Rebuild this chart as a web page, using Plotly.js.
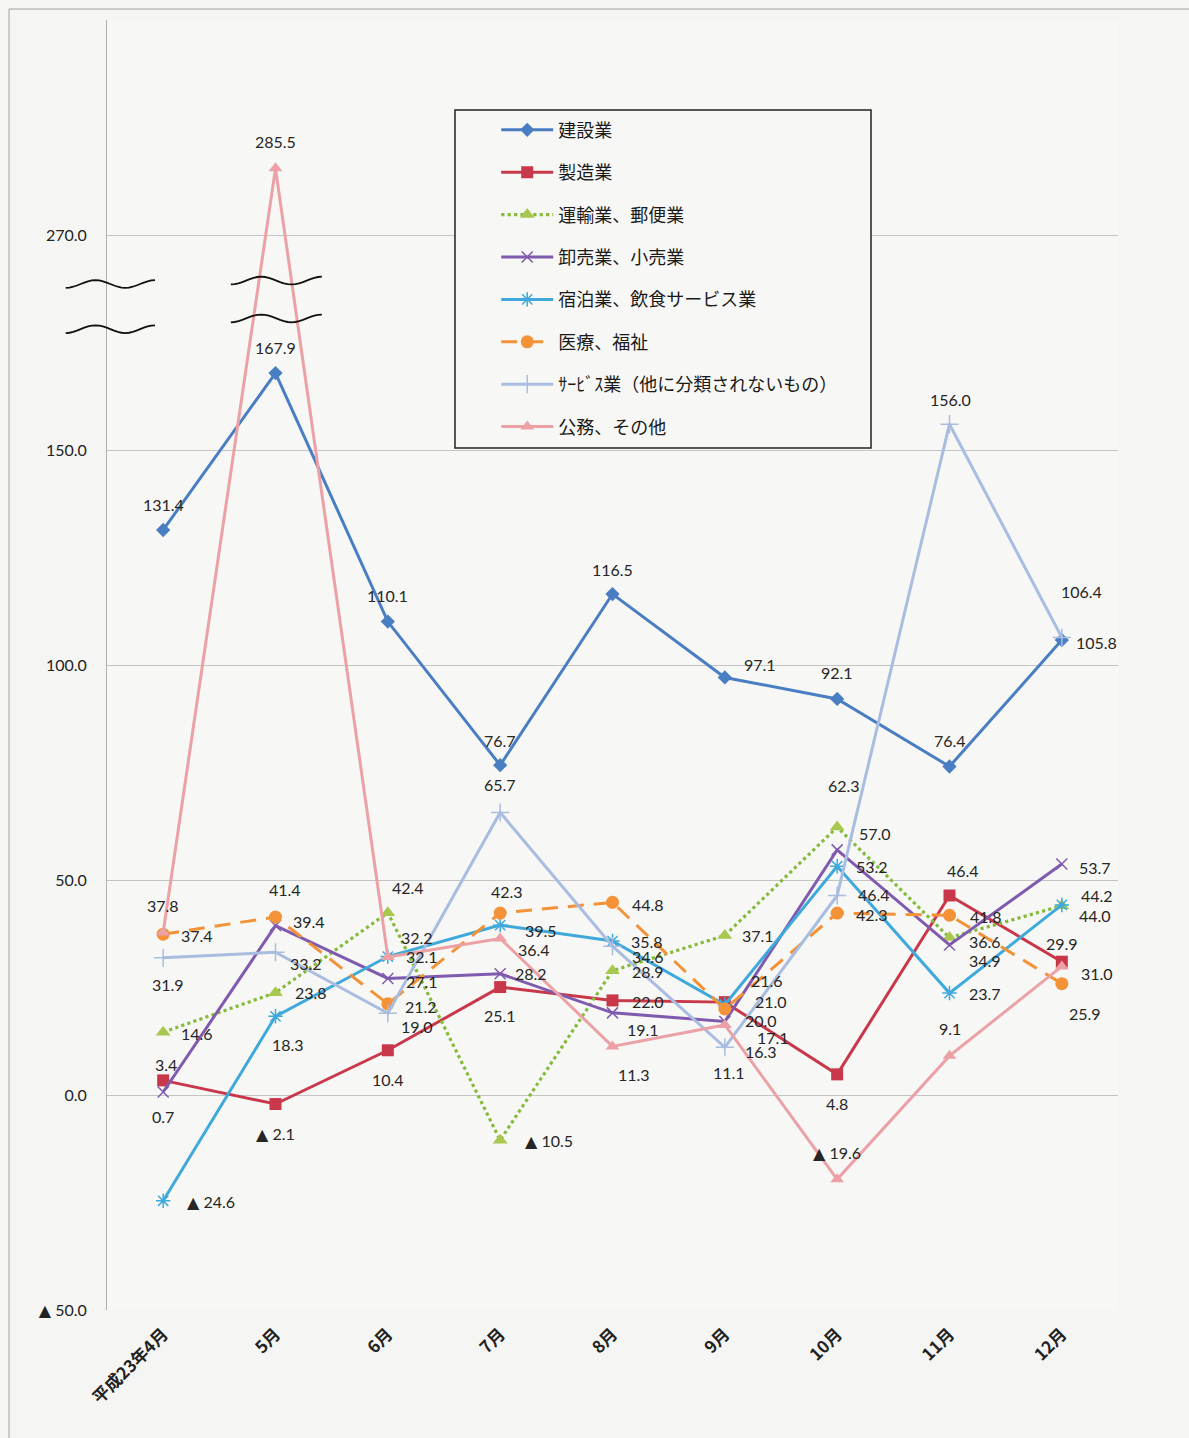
<!DOCTYPE html>
<html>
<head>
<meta charset="utf-8">
<script src="https://cdn.plot.ly/plotly-3.0.1.min.js"></script>
<style>
  html, body { margin: 0; padding: 0; background: #f5f6f3; }
  #chart { width: 1189px; height: 1438px; }
</style>
</head>
<body>
<div id="chart"></div>
<script>
// ---- data ----
const months = ['平成23年4月', '5月', '6月', '7月', '8月', '9月', '10月', '11月', '12月'];
const seriesNames = ['建設業', '製造業', '運輸業、郵便業', '卸売業、小売業',
  '宿泊業、飲食サービス業', '医療、福祉', 'ｻｰﾋﾞｽ業（他に分類されないもの）', '公務、その他'];

const kensetsu   = [131.4, 167.9, 110.1, 76.7, 116.5, 97.1, 92.1, 76.4, 105.8];
const seizo      = [3.4, -2.1, 10.4, 25.1, 22.0, 21.6, 4.8, 46.4, 31.0];
const unyu       = [14.6, 23.8, 42.4, -10.5, 28.9, 37.1, 62.3, 36.6, 44.0];
const oroshi     = [0.7, 39.4, 27.1, 28.2, 19.1, 17.1, 57.0, 34.9, 53.7];
const shukuhaku  = [-24.6, 18.3, 32.2, 39.5, 35.8, 21.0, 53.2, 23.7, 44.2];
const iryo       = [37.4, 41.4, 21.2, 42.3, 44.8, 20.0, 42.3, 41.8, 25.9];
const service    = [31.9, 33.2, 19.0, 65.7, 34.6, 11.1, 46.4, 156.0, 106.4];
const koumu      = [37.8, 285.5, 32.1, 36.4, 11.3, 16.3, -19.6, 9.1, 29.9];

// y-axis tick values (real values) and labels
const yTickReal = [-50, 0, 50, 100, 150, 270];
// ---- axis break: values above BREAK_LOW are shifted down so that 270 sits at 200 ----
const BREAK_REAL = 270, BREAK_SHOWN = 200, BREAK_LOW = 200;
function toAxis(v) { return v >= BREAK_LOW ? v - (BREAK_REAL - BREAK_SHOWN) : v; }
function fmt(v) { return v < 0 ? '▲ ' + Math.abs(v).toFixed(1) : v.toFixed(1); }

// ---- label offsets (px, label centre minus point; +dy = down) ----
const offKensetsu  = [[0,-25],[0,-26],[0,-26],[0,-25],[0,-25],[35,-13],[0,-26],[0,-26],[35,2]];
const offSeizo     = [[3,-16],[0,29],[0,29],[0,28],[35,1],[42,-22],[0,29],[13,-25],[35,12]];
const offUnyu      = [[34,1],[35,0],[20,-25],[49,0],[35,1],[33,0],[7,-42],[35,4],[33,10]];
const offOroshi    = [[0,25],[33,-4],[34,3],[31,0],[30,17],[48,16],[38,-16],[35,16],[33,3]];
const offShuku     = [[48,1],[12,28],[29,-19],[41,5],[34,0],[46,-3],[35,0],[35,0],[35,-9]];
const offIryo      = [[34,1],[9,-27],[33,3],[7,-22],[35,2],[36,11],[35,1],[36,1],[23,30]];
const offService   = [[5,27],[30,11],[29,13],[0,-28],[35,10],[4,25],[37,-1],[1,-25],[20,-46]];
const offKoumu     = [[0,-27],[0,-27],[34,0],[34,11],[21,28],[36,27],[0,-27],[0,-27],[0,-23]];

const allSeries = [kensetsu, seizo, unyu, oroshi, shukuhaku, iryo, service, koumu];
const allOffsets = [offKensetsu, offSeizo, offUnyu, offOroshi, offShuku, offIryo, offService, offKoumu];

// ---- styles ----
const styles = [
  { line: { color: '#4A7EC2', width: 3 }, marker: { symbol: 'diamond', size: 11, color: '#4A7EC2' } },
  { line: { color: '#C9384A', width: 3 }, marker: { symbol: 'square', size: 12, color: '#C9384A' } },
  { line: { color: '#84BB3A', width: 3.2, dash: 'dot' }, marker: { symbol: 'triangle-up', size: 13, color: '#A8C850' } },
  { line: { color: '#7F5AAE', width: 3 }, marker: { symbol: 'x-thin-open', size: 11, color: '#7F5AAE', line: { width: 1.5, color: '#7F5AAE' } } },
  { line: { color: '#3FA9DB', width: 3 }, marker: { symbol: 'asterisk-open', size: 12, color: '#3FA9DB', line: { width: 1.5, color: '#3FA9DB' } } },
  { line: { color: '#F39237', width: 3, dash: '16px,10px' }, marker: { symbol: 'circle', size: 13, color: '#F39237' } },
  { line: { color: '#A9BDE0', width: 3 }, marker: { symbol: 'cross-thin-open', size: 13, color: '#A9BDE0', line: { width: 1.5, color: '#A9BDE0' } } },
  { line: { color: '#EBA1A6', width: 3 }, marker: { symbol: 'triangle-up', size: 12, color: '#EBA1A6' } }
];

const traces = allSeries.map((vals, k) => ({
  type: 'scatter',
  mode: 'lines+markers',
  name: seriesNames[k],
  legendgroup: 'g' + k,
  x: months,
  y: vals.map(toAxis),
  line: styles[k].line,
  marker: styles[k].marker,
  hoverinfo: 'skip',
  cliponaxis: false
}));

const annotations = [];
allSeries.forEach((vals, k) => {
  vals.forEach((v, i) => {
    const o = allOffsets[k][i];
    annotations.push({
      x: months[i], y: toAxis(v), xref: 'x', yref: 'y',
      text: fmt(v), showarrow: false,
      xanchor: 'center', yanchor: 'middle',
      xshift: o[0], yshift: -o[1],
      font: { family: 'Lato, "DejaVu Sans", sans-serif', size: 16, color: '#262626' }
    });
  });
});

// squiggle break marks
function squiggle(x0, x1, c, amp) {
  let d = '';
  const n = 24;
  for (let j = 0; j <= n; j++) {
    const t = j / n;
    const x = x0 + (x1 - x0) * t;
    const y = c + amp * Math.sin(3 * Math.PI * t - Math.PI / 2);
    d += (j === 0 ? 'M' : 'L') + x.toFixed(5) + ',' + y.toFixed(3);
  }
  return d;
}
const sqLine = { color: '#111', width: 1.8 };
const shapes = [
  // legend box
  { type: 'rect', xref: 'paper', yref: 'paper', x0: 0.3442, x1: 0.7557, y0: 0.6682, y1: 0.9302,
    line: { color: '#222', width: 1.5 }, fillcolor: '#f7f7f5', layer: 'above' },
  // break marks
  { type: 'path', xref: 'paper', yref: 'y', path: squiggle(-0.0408, 0.0475, 188.6, 0.9), line: sqLine, layer: 'above' },
  { type: 'path', xref: 'paper', yref: 'y', path: squiggle(-0.0408, 0.0475, 178.1, 0.9), line: sqLine, layer: 'above' },
  { type: 'path', xref: 'paper', yref: 'y', path: squiggle(0.1225, 0.2125, 189.4, 0.9), line: sqLine, layer: 'above' },
  { type: 'path', xref: 'paper', yref: 'y', path: squiggle(0.1225, 0.2125, 180.6, 0.9), line: sqLine, layer: 'above' },
  // outer chart frame
  { type: 'line', xref: 'paper', yref: 'paper', x0: -0.0969, x1: 1.08, y0: 1.0085, y1: 1.0085, line: { color: '#a0a0a0', width: 1 } },
  { type: 'line', xref: 'paper', yref: 'paper', x0: -0.0969, x1: -0.0969, y0: 1.0085, y1: -0.11, line: { color: '#a0a0a0', width: 1 } }
];

const yTickVals = yTickReal.map(toAxis).concat([250]);
const yTickText = yTickReal.map(fmt).concat(['']);

const layout = {
  width: 1189, height: 1438,
  margin: { l: 107, r: 71, t: 20, b: 128 },
  paper_bgcolor: '#f5f6f3',
  plot_bgcolor: '#f7f7f5',
  showlegend: true,
  legend: {
    x: 0.385, y: 0.929, xanchor: 'left', yanchor: 'top',
    bgcolor: 'rgba(0,0,0,0)', borderwidth: 0,
    font: { family: '"Noto Sans CJK JP", sans-serif', size: 18, color: '#1a1a1a' },
    traceorder: 'grouped', tracegroupgap: 16, itemwidth: 52
  },
  xaxis: {
    type: 'category', range: [-0.5, 8.5],
    showgrid: false, zeroline: false, showline: false, ticks: '',
    tickangle: -45, ticklabelstandoff: 10,
    tickfont: { family: '"Noto Sans CJK JP", sans-serif', size: 17, color: '#222', weight: 'bold' },
    fixedrange: true
  },
  xaxis2: {
    overlaying: 'x', anchor: 'free', position: 1 / 6,
    range: [-0.5, 8.5], tick0: 0.5, dtick: 1, ticks: 'outside', ticklen: 5, tickcolor: '#888',
    showticklabels: false, showgrid: false, zeroline: false,
    showline: true, linecolor: '#888', linewidth: 1
  },
  yaxis: {
    range: [-50, 250],
    tickmode: 'array', tickvals: yTickVals, ticktext: yTickText,
    showgrid: true, gridcolor: '#c4c4c4', gridwidth: 1,
    zeroline: false, showline: true, linecolor: '#b0b0b0', linewidth: 1,
    ticks: '', ticklabelstandoff: 16,
    tickfont: { family: 'Lato, "DejaVu Sans", sans-serif', size: 16, color: '#222' },
    fixedrange: true
  },
  annotations: annotations,
  shapes: shapes
};

Plotly.newPlot('chart', traces, layout, { displayModeBar: false, staticPlot: true });
</script>
</body>
</html>
